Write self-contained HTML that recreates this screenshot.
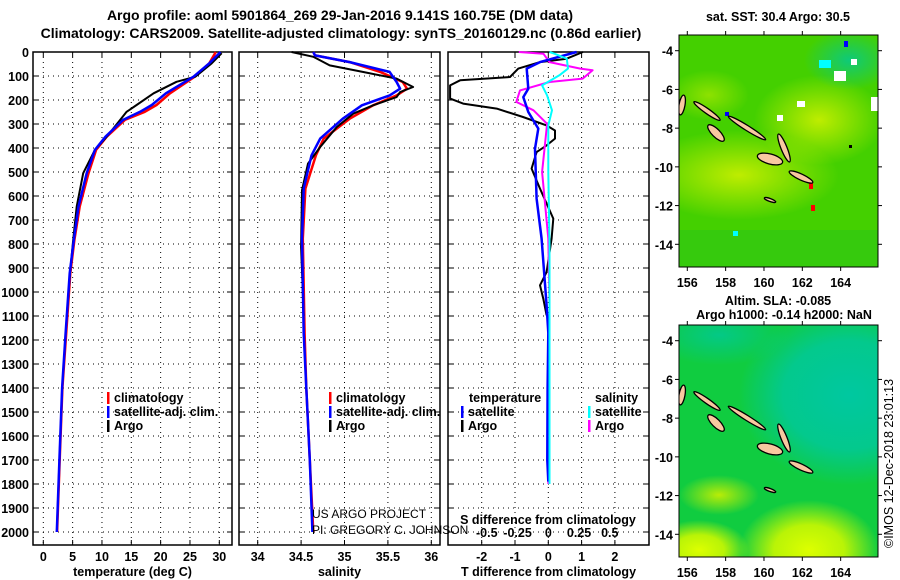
<!DOCTYPE html>
<html><head><meta charset="utf-8">
<style>
body{margin:0;background:#fff;}
svg{display:block;font-family:"Liberation Sans",Arial,sans-serif;}
.t{font-weight:bold;font-size:13px;fill:#000;}
.tk{font-weight:bold;font-size:12.5px;fill:#000;}
.lg{font-weight:bold;font-size:12.5px;fill:#000;}
</style></head>
<body>
<svg id="chart" width="900" height="580" viewBox="0 0 900 580">
<text class="t" x="340" y="20" text-anchor="middle" style="font-size:14px">Argo profile: aoml 5901864_269 29-Jan-2016 9.141S 160.75E (DM data)</text>
<text class="t" x="341" y="38" text-anchor="middle" style="font-size:14px">Climatology: CARS2009. Satellite-adjusted climatology: synTS_20160129.nc (0.86d earlier)</text>
<g id="plots"></g>
<g id="maps"></g>
</svg>
<script>
// ---------- data ----------
const depthTicks=[0,100,200,300,400,500,600,700,800,900,1000,1100,1200,1300,1400,1500,1600,1700,1800,1900,2000];
const tempTicks=[0,5,10,15,20,25,30];
const salTicks=[34,34.5,35,35.5,36];
const tdiffTicks=[-2,-1,0,1,2];
const sdiffTicks=[-0.5,-0.25,0,0.25,0.5];
const sdiffTickLabels=["-0.5","-0.25","0","0.25","0.5"];

const argoTD=[5,47,103,124,172,221,249,283,353,408,505,644,783,922,1100];
const argoT=[30.4,28.7,25.9,22.7,18.8,15.9,14.2,13.1,10.8,8.8,6.8,5.7,5.1,4.55,4.0];
const climTD=[0,47,103,172,221,249,283,353,408,505,644,783,922,1172,1400,1700,2000];
const climT=[29.4,28.3,25.8,21.6,19.3,17.3,13.9,10.8,9.0,7.7,6.2,5.3,4.6,3.9,3.25,2.8,2.35];
const satT=[30.2,28.3,25.6,20.9,18.5,16.5,13.6,10.6,8.8,7.4,6.0,5.2,4.5,3.8,3.2,2.75,2.3];

const argoSD=[0,20,56,83,111,146,167,188,222,257,313,396,465,576,813,1100];
const argoS=[34.39,34.64,34.83,35.21,35.60,35.79,35.64,35.60,35.33,35.10,34.91,34.72,34.58,34.51,34.50,34.53];
const climSD=[0,14,42,83,125,153,181,222,278,361,431,569,778,1172,1400,1700,2000];
const climS=[34.64,34.66,35.06,35.41,35.67,35.72,35.60,35.33,35.06,34.76,34.67,34.55,34.52,34.54,34.56,34.60,34.64];
const satS=[34.64,34.66,35.06,35.52,35.60,35.64,35.52,35.20,34.98,34.72,34.62,34.53,34.51,34.53,34.56,34.60,34.63];

const dTD=[0,28,42,69,104,118,139,194,215,236,271,306,327,361,389,417,486,569,694,778,917,972,1028,1097];
const dTArgo=[1.04,0.55,-0.25,-0.9,-1.15,-2.65,-2.95,-2.95,-2.56,-1.55,-0.76,-0.05,0.2,0.2,-0.05,-0.35,-0.5,-0.25,0.15,0.1,-0.05,-0.25,-0.15,-0.05];
const dTSD=[0,42,69,153,188,250,319,403,611,778,1056,1170,1400,1700,1790];
const dTSat=[0.85,-0.25,-0.65,-0.6,-0.75,-0.6,-0.3,-0.4,-0.35,-0.2,-0.05,0.0,-0.02,-0.03,0.0];
const dSD=[0,7,42,69,76,111,125,160,208,243,299,500,778,1056,1400,1800];
const dSArgo=[-0.24,-0.04,0.01,0.26,0.36,0.28,0.01,-0.23,-0.26,-0.12,-0.01,-0.05,0.0,0.01,0.0,0.0];
const dSSD=[0,7,28,69,97,139,181,243,306,500,800,1100,1400,1800];
const dSSat=[0.01,0.05,0.15,0.16,0.09,-0.05,-0.01,0.03,0.0,0.0,0.01,0.01,0.01,0.01];

// ---------- axes ----------
const NS='http://www.w3.org/2000/svg';
const TOP=52,BOT=545;
const yD=d=>TOP+0.24*d;
const xT=v=>43.3+5.867*v;
const xS=v=>257.7+86.8*(v-34);
const xDT=v=>548.3+33.3*v;
const xDS=v=>548.3+123*v;
const g=document.getElementById('plots');
function el(tag,at,parent){const e=document.createElementNS(NS,tag);for(const k in at)e.setAttribute(k,at[k]);(parent||g).appendChild(e);return e;}
function txt(s,at,parent){const e=el('text',at,parent);e.textContent=s;return e;}

function panel(name,x0,x1,ticks,xf,labels,title){
  const p=el('g',{});
  
  
  depthTicks.forEach(d=>{
    if(d>0){const l=el('line',{x1:x0,x2:x1,y1:yD(d),y2:yD(d),stroke:'#000','stroke-width':1,'stroke-dasharray':'1,4'},p);
    
    }
    el('line',{x1:x0,x2:x0+5,y1:yD(d),y2:yD(d),stroke:'#000'},p);
    el('line',{x1:x1-5,x2:x1,y1:yD(d),y2:yD(d),stroke:'#000'},p);
  });
  ticks.forEach((t,i)=>{
    const x=xf(t);
    const l=el('line',{x1:x,x2:x,y1:TOP,y2:BOT,stroke:'#000','stroke-dasharray':'1,4'},p);
    
    
    el('line',{x1:x,x2:x,y1:BOT-5,y2:BOT,stroke:'#000'},p);
    el('line',{x1:x,x2:x,y1:TOP,y2:TOP+5,stroke:'#000'},p);
    const tl=txt(labels?labels[i]:String(t),{x:x,y:561,'text-anchor':'middle',class:'tk'},p);
    
    
  });
  const r=el('rect',{x:x0,y:TOP,width:x1-x0,height:BOT-TOP,fill:'none',stroke:'#000','stroke-width':1.5},p);
  
  
  const at=txt(title,{x:(x0+x1)/2,y:576,'text-anchor':'middle',class:'tk'},p);
  
  
  return p;
}
panel('temperature',33,232,tempTicks,xT,null,'temperature (deg C)');
panel('salinity',239,440,salTicks,xS,null,'salinity');
panel('difference',448,649,tdiffTicks,xDT,null,'T difference from climatology');
depthTicks.forEach(d=>{
  const t=txt(String(d),{x:29,y:yD(d)+5,'text-anchor':'end',class:'tk'});
  
  
});
sdiffTicks.forEach((s,i)=>{
  const t=txt(sdiffTickLabels[i],{x:xDS(s),y:537,'text-anchor':'middle',class:'tk'});
  
  
});
const sdt=txt('S difference from climatology',{x:548,y:524,'text-anchor':'middle',class:'tk'});



function line(name,ds,vs,xf,color,w){
  const pts=ds.map((d,i)=>xf(vs[i]).toFixed(1)+','+yD(d).toFixed(1)).join(' ');
  const l=el('polyline',{points:pts,fill:'none',stroke:color,'stroke-width':w||2,'stroke-linejoin':'round'});
  
  
}
line('temp-climatology-line',climTD,climT,xT,'#f00',2.5);
line('temp-argo-line',argoTD,argoT,xT,'#000',2);
line('temp-satellite-line',climTD,satT,xT,'#00f',2.5);
line('sal-climatology-line',climSD,climS,xS,'#f00',2.5);
line('sal-argo-line',argoSD,argoS,xS,'#000',2);
line('sal-satellite-line',climSD,satS,xS,'#00f',2.5);
line('tdiff-argo-line',dTD,dTArgo,xDT,'#000',2);
line('sdiff-argo-line',dSD,dSArgo,xDS,'#f0f',2);
line('tdiff-satellite-line',dTSD,dTSat,xDT,'#00f',2.5);
line('sdiff-satellite-line',dSSD,dSSat,xDS,'#0ff',2);

function legend(name,x,y,color,label){
  const gg=el('g',{});
  
  
  el('rect',{x:x,y:y-10,width:2.5,height:12,fill:color},gg);
  txt(label,{x:x+7,y:y,class:'lg'},gg);
}
legend('legend-climatology',107,402,'#f00','climatology');
legend('legend-satellite-adj',107,416,'#00f','satellite-adj. clim.');
legend('legend-argo',107,430,'#000','Argo');
legend('legend-climatology-2',329,402,'#f00','climatology');
legend('legend-satellite-adj-2',329,416,'#00f','satellite-adj. clim.');
legend('legend-argo-2',329,430,'#000','Argo');
txt('temperature',{x:469,y:402,class:'lg'});
txt('salinity',{x:595,y:402,class:'lg'});
legend('legend-t-satellite',461,416,'#00f','satellite');
legend('legend-t-argo',461,430,'#000','Argo');
legend('legend-s-satellite',588,416,'#0ff','satellite');
legend('legend-s-argo',588,430,'#f0f','Argo');
const c1=txt('US ARGO PROJECT',{x:312,y:518,style:'font-size:12px'});


const c2=txt('PI: GREGORY C. JOHNSON',{x:312,y:534,style:'font-size:12px'});



// ---------- maps ----------
const lonTicks=[156,158,160,162,164];
const latTicks=[-4,-6,-8,-10,-12,-14];
const mg=document.getElementById('maps');
const MX0=679,MX1=878,MW=199;
const xLon=l=>687.3+19.17*(l-156);
const islands=[[3,70,3,10,10],[28,76,16,2.5,35],[68,93,22,2.5,32],[37,98,11,4,45],[91,124,13,5,15],[105,113,3,15,-22],[122,142,13,3,25],[91,165,6,1.5,20]];
function map(name,y0,title1,title2,bg){
  const m=el('g',{},mg);
  
  
  const H=232;
  const yLat=la=>y0+15.7+19.36*(-4-la);
  const id=name+'-clip';
  const cp=el('clipPath',{id:id},m);el('rect',{x:MX0,y:y0,width:MW,height:H},cp);
  const inner=el('g',{'clip-path':'url(#'+id+')'},m);
  bg(inner,y0,H);
  islands.forEach(a=>{
    const e=el('ellipse',{cx:MX0+a[0],cy:y0+a[1],rx:a[2],ry:a[3],transform:'rotate('+a[4]+' '+(MX0+a[0])+' '+(y0+a[1])+')',fill:'#f8c8a0',stroke:'#000','stroke-width':1.3},inner);
    
    
  });
  el('rect',{x:MX0,y:y0,width:MW,height:H,fill:'none',stroke:'#000','stroke-width':1},m);
  lonTicks.forEach(l=>{
    const x=xLon(l);
    el('line',{x1:x,x2:x,y1:y0-4,y2:y0,stroke:'#000'},m);
    el('line',{x1:x,x2:x,y1:y0+H,y2:y0+H+4,stroke:'#000'},m);
    const t=txt(String(l),{x:x,y:y0+H+20,'text-anchor':'middle',class:'tk'},m);
    
    
  });
  latTicks.forEach(la=>{
    const y=yLat(la);
    el('line',{x1:MX0-4,x2:MX0,y1:y,y2:y,stroke:'#000'},m);
    el('line',{x1:MX0+MW,x2:MX0+MW+4,y1:y,y2:y,stroke:'#000'},m);
    const t=txt(String(la),{x:MX0-6,y:y+5,'text-anchor':'end',class:'tk'},m);
    
    
  });
  const t1=txt(title1,{x:778,y:title2?y0-20:y0-14,'text-anchor':'middle',class:'tk'},m);
  
  
  if(title2){const t2=txt(title2,{x:784,y:y0-6,'text-anchor':'middle',class:'tk'},m);
  
  }
}
const defs=el('defs',{},mg);
function grad(id,stops,at){const r=el('radialGradient',Object.assign({id:id},at||{}),defs);stops.forEach(s=>el('stop',{offset:s[0],'stop-color':s[1],'stop-opacity':s[2]==null?1:s[2]},r));}
grad('sstYel',[[0,'#ccf000',0.9],[1,'#ccf000',0]]);
grad('sstTeal',[[0,'#00c898',0.8],[1,'#00c898',0]]);
grad('slaTeal',[[0,'#00c8a0',1],[0.6,'#00c8a0',0.8],[1,'#00c8a0',0]]);
grad('slaYel',[[0,'#ddff00',1],[0.5,'#ccf800',0.9],[1,'#ccf800',0]]);
map('sst-map',35,'sat. SST: 30.4 Argo: 30.5',null,(p,y0,H)=>{
  el('rect',{x:MX0,y:y0,width:MW,height:H,fill:'#44d000'},p);
  el('ellipse',{cx:MX0+60,cy:y0+140,rx:100,ry:45,fill:'url(#sstYel)'},p);
  el('ellipse',{cx:MX0+140,cy:y0+85,rx:65,ry:45,fill:'url(#sstYel)'},p);
  el('ellipse',{cx:MX0+30,cy:y0+60,rx:40,ry:25,fill:'url(#sstYel)',opacity:0.6},p);
  el('ellipse',{cx:MX0+170,cy:y0+25,rx:45,ry:30,fill:'url(#sstTeal)'},p);
  el('rect',{x:MX0,y:y0+195,width:MW,height:37,fill:'#22c020',opacity:0.4},p);
  [[155,36,12,10,'#fff'],[140,25,12,8,'#0ff'],[172,24,6,6,'#fff'],[192,62,8,14,'#fff'],[118,66,8,6,'#fff'],[98,80,6,6,'#fff'],[120,140,6,4,'#f00'],[130,148,4,6,'#f00'],[132,170,4,6,'#f00'],[165,6,4,6,'#00f'],[46,77,4,4,'#00f'],[170,110,3,3,'#000'],[54,196,5,5,'#0ff']].forEach(r=>{
    const c=el('rect',{x:MX0+r[0],y:y0+r[1],width:r[2],height:r[3],fill:r[4]},p);
    
    
  });
});
map('sla-map',325,'Altim. SLA: -0.085','Argo h1000: -0.14 h2000: NaN',(p,y0,H)=>{
  el('rect',{x:MX0,y:y0,width:MW,height:H,fill:'#10cc40'},p);
  el('ellipse',{cx:MX0+170,cy:y0+70,rx:110,ry:90,fill:'url(#slaTeal)'},p);
  el('ellipse',{cx:MX0+40,cy:y0+10,rx:70,ry:30,fill:'url(#sstTeal)'},p);
  el('ellipse',{cx:MX0+130,cy:y0+225,rx:70,ry:50,fill:'url(#slaYel)'},p);
  el('ellipse',{cx:MX0+20,cy:y0+225,rx:50,ry:30,fill:'url(#slaYel)'},p);
  el('ellipse',{cx:MX0+40,cy:y0+170,rx:40,ry:20,fill:'url(#sstYel)'},p);
});
const cr=txt('©IMOS 12-Dec-2018 23:01:13',{x:0,y:0,transform:'translate(893,548) rotate(-90)',style:'font-size:12.5px'},mg);


</script>
</body></html>
